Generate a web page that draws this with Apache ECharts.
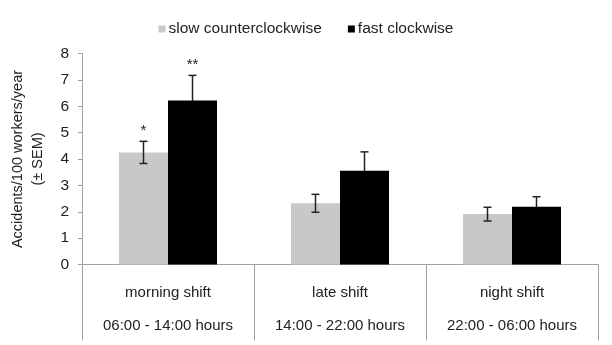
<!DOCTYPE html>
<html>
<head>
<meta charset="utf-8">
<script src="https://cdn.jsdelivr.net/npm/echarts@6/dist/echarts.min.js"></script>
<style>
  html, body { margin: 0; padding: 0; background: #fff; }
  #chart { width: 612px; height: 345px; }
</style>
</head>
<body>
<div id="chart"></div>
<script>
const shifts = ["morning shift", "late shift", "night shift"];
const shiftHours = ["06:00 - 14:00 hours", "14:00 - 22:00 hours", "22:00 - 06:00 hours"];

const slowMeans = [4.25, 2.32, 1.91];
const slowSem = [0.42, 0.34, 0.26];
const slowStars = ["*", "", ""];

const fastMeans = [6.22, 3.55, 2.19];
const fastSem = [0.95, 0.72, 0.38];
const fastStars = ["**", "", ""];

const yTicks = [0, 1, 2, 3, 4, 5, 6, 7, 8];

const BAR_W = 49;

// error bar with cap, plus significance stars above it
function errorBars(side) {
  return function (params, api) {
    const cat = api.value(0);
    const mean = api.value(1);
    const sem = api.value(2);
    const star = api.value(3);
    const top = api.coord([cat, mean + sem]);
    const bot = api.coord([cat, mean - sem]);
    const x = top[0] + side * BAR_W / 2;
    const cap = 4;
    const style = { stroke: "#222", lineWidth: 1.5 };
    const children = [
      { type: "line", shape: { x1: x, y1: top[1], x2: x, y2: bot[1] }, style },
      { type: "line", shape: { x1: x - cap, y1: top[1], x2: x + cap, y2: top[1] }, style },
      { type: "line", shape: { x1: x - cap, y1: bot[1], x2: x + cap, y2: bot[1] }, style }
    ];
    if (star) {
      children.push({
        type: "text",
        style: {
          text: star, x: x, y: top[1] - 3,
          align: "center", verticalAlign: "bottom",
          font: "15px 'Liberation Sans', Arial", fill: "#222"
        }
      });
    }
    return { type: "group", children };
  };
}

const chart = echarts.init(document.getElementById("chart"));

chart.setOption({
  animation: false,
  textStyle: { fontFamily: "'Liberation Sans', Arial, sans-serif" },
  legend: {
    data: ["slow counterclockwise", "fast clockwise"],
    top: 16,
    left: "center",
    icon: "rect",
    itemWidth: 7,
    itemHeight: 7,
    itemGap: 26,
    textStyle: { fontSize: 15.5, color: "#222", padding: [0, 0, 0, -2] }
  },
  grid: { left: 81, right: 14, top: 53.5, bottom: 80.5 },
  xAxis: {
    type: "category",
    data: shifts,
    axisLine: { lineStyle: { color: "#a0a0a0", width: 1 } },
    axisTick: { show: true, alignWithLabel: false, interval: 0, length: 76, lineStyle: { color: "#a0a0a0" } },
    axisLabel: {
      interval: 0,
      margin: 12,
      fontSize: 15,
      color: "#222",
      lineHeight: 33,
      formatter: (v, i) => v + "\n" + shiftHours[i]
    }
  },
  yAxis: {
    type: "value",
    min: yTicks[0],
    max: yTicks[yTicks.length - 1],
    interval: 1,
    name: "Accidents/100 workers/year\n(± SEM)",
    nameLocation: "middle",
    nameRotate: 90,
    nameGap: 34,
    nameTextStyle: { fontSize: 14.5, color: "#222", lineHeight: 20 },
    splitLine: { show: false },
    axisLine: { show: true, lineStyle: { color: "#a0a0a0" } },
    axisTick: { show: true, length: 4, lineStyle: { color: "#a0a0a0" } },
    axisLabel: { fontSize: 15.5, color: "#222", margin: 13 }
  },
  series: [
    {
      name: "slow counterclockwise",
      type: "bar",
      data: slowMeans,
      barWidth: BAR_W,
      barGap: "0%",
      z: 2,
      itemStyle: { color: "#c8c8c8" }
    },
    {
      name: "fast clockwise",
      type: "bar",
      data: fastMeans,
      barWidth: BAR_W,
      barGap: "0%",
      z: 2,
      itemStyle: { color: "#000" }
    },
    {
      type: "custom",
      renderItem: errorBars(-1),
      data: slowMeans.map((m, i) => [i, m, slowSem[i], slowStars[i]]),
      encode: { x: 0, y: 1 },
      z: 10
    },
    {
      // drawn under the black bars so only the upper whisker shows
      type: "custom",
      renderItem: errorBars(1),
      data: fastMeans.map((m, i) => [i, m, fastSem[i], fastStars[i]]),
      encode: { x: 0, y: 1 },
      z: 1
    }
  ]
});
</script>
</body>
</html>
